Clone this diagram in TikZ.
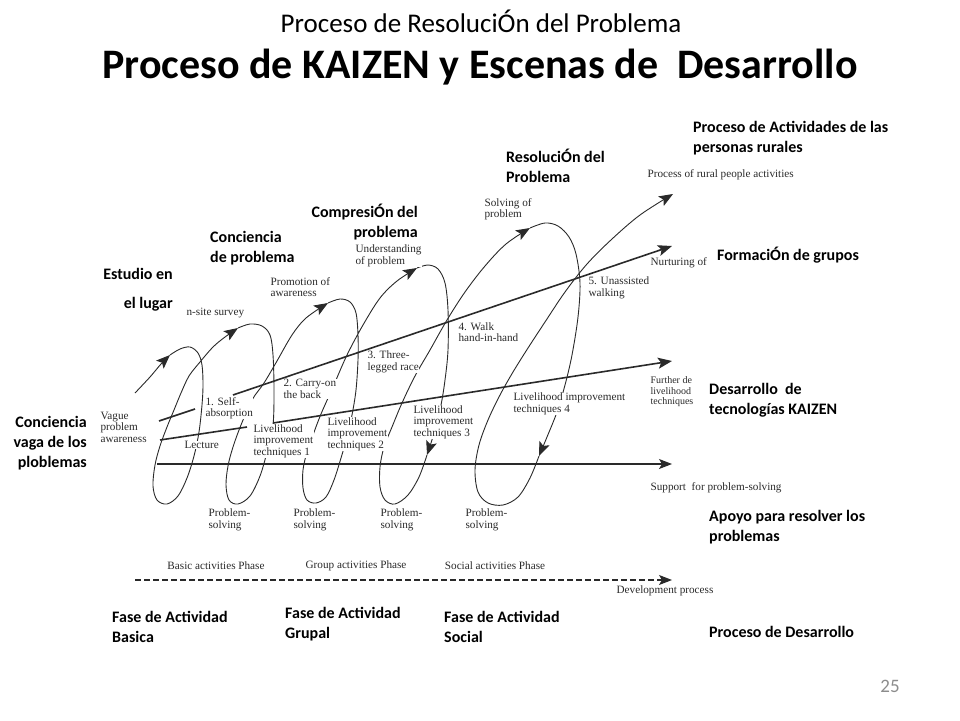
\documentclass[tikz,border=0pt]{standalone}
\usepackage{fontspec}
\setmainfont{Carlito}
\newfontfamily\serifen{Liberation Serif}
\usepackage{tikz}
\usetikzlibrary{arrows.meta,positioning}
\definecolor{scan}{HTML}{2A2A2A}

\begin{document}
\begin{tikzpicture}[x=1pt,y=-1pt,
  es/.style={font=\bfseries\fontsize{16}{20}\selectfont, inner sep=0pt},
  en/.style={font=\serifen\fontsize{11.2}{11.5}\selectfont, text=scan, inner sep=0.4pt, fill=white, align=left},
  coil/.style={line width=0.9pt, scan, -{Stealth[length=14pt,width=11pt,inset=3pt]}},
  trend/.style={line width=1.6pt, scan}]
\useasboundingbox (0,0) rectangle (960,720);
% Titles
\node[font=\fontsize{27}{30}\selectfont] (sub) at (481,21) {Proceso de ResoluciÓn del Problema};
\node[font=\bfseries\fontsize{42}{46}\selectfont] (title) at (480,67) {Proceso de KAIZEN y Escenas de~ Desarrollo};

% Straight processes
\coordinate (nurA) at (159,421); \coordinate (nurB) at (195,409);
\coordinate (nurC) at (233,395); \coordinate (nurD) at (672,246);
\coordinate (livA) at (160,440); \coordinate (livB) at (247,427);
\coordinate (livC) at (273,423); \coordinate (livD) at (672,361);
\coordinate (supA) at (157,464); \coordinate (supD) at (672,464);
\coordinate (devA) at (135,580); \coordinate (devD) at (672,580);
\draw[trend] (nurA) -- (nurB);
\draw[trend, -{Stealth[length=14pt,width=11pt,inset=3pt]}] (nurC) -- (nurD);
\draw[trend] (livA) -- (livB);
\draw[trend, -{Stealth[length=14pt,width=11pt,inset=3pt]}] (livC) -- (livD);
\draw[line width=1.1pt, scan, -{Stealth[length=13pt,width=10pt,inset=3pt]}] (supA) -- (supD);
\draw[line width=1.1pt, scan, dash pattern=on 6pt off 3pt, -{Stealth[length=13pt,width=10pt,inset=3pt]}] (devA) -- (devD);

% Process of rural people activities (coil)
\draw[coil] plot[smooth, tension=0.55] coordinates {(135,393) (150,377) (161,364) (170,355)};
\draw[coil] plot[smooth, tension=0.55] coordinates {(170,355) (180,349) (190,347) (198,353) (202,365) (203,385) (202,405) (199,432) (194,456) (187,478) (178,496) (167,504) (157,500) (153,486) (155,465) (160,446) (167,427) (174,410) (181,393) (189,376) (200,362) (213,347) (225,337) (238,328)};
\draw[coil] plot[smooth, tension=0.55] coordinates {(238,328) (250,324) (262,326) (270,335) (273,355) (274,390) (273,425) (267,452) (260,476) (250,496) (238,504) (229,500) (226,485) (228,466) (233,447) (241,425) (252,400) (264,383) (277,361) (292,335) (306,318) (328,303)};
\draw[coil] plot[smooth, tension=0.55] coordinates {(328,303) (340,299) (350,302) (356,313) (358,335) (358,360) (356,390) (352,415) (347,437) (341,458) (334,480) (326,497) (316,503) (307,500) (303,488) (303,470) (307,452) (313,435) (321,414) (333,387) (347,355) (363,325) (380,298) (397,281) (417,268)};
\draw[coil] plot[smooth, tension=0.55] coordinates {(417,268) (428,265) (438,269) (445,283) (448,310) (448,350) (445,380) (441,405) (435,430) (427,455)};
\draw[coil] plot[smooth, tension=0.55] coordinates {(427,455) (419,477) (408,495) (395,504) (385,500) (380,487) (380,467) (384,447) (392,427) (402,403) (415,376) (430,350) (447,320) (465,292) (485,266) (506,244) (530,228)};
\draw[coil] plot[smooth, tension=0.55] coordinates {(530,228) (545,223) (558,226) (569,237) (576,254) (580,283) (578,317) (572,355) (565,385) (557,412) (547,437) (539,456)};
\draw[coil] plot[smooth, tension=0.55] coordinates {(539,456) (530,478) (518,497) (503,505) (488,503) (478,492) (475,470) (479,445) (488,420) (500,395) (513,372) (528,348) (545,322) (565,292) (587,264) (612,239) (640,215) (673,194)};

% English labels of the scheme
\node[en, anchor=west] (procR) at (647,175) {Process of rural people activities};
\node[en, anchor=west] (nurt) at (650,263) {Nurturing of};
\node[en, anchor=west, font=\serifen\fontsize{10}{10.5}\selectfont] (furth) at (650,392) {Further de\\livelihood\\techniques};
\node[en, anchor=west] (supp) at (650,488) {Support~ for problem-solving};
\node[en] (devp) at (665,591) {Development process};
\node[en] (basic) at (216,566) {Basic activities Phase};
\node[en] (group) at (356,566) {Group activities Phase};
\node[en] (socl) at (495,566) {Social activities Phase};
\node[en, anchor=west] (ps1) at (208,520) {Problem-\\solving};
\node[en, anchor=west] (ps2) at (293,520) {Problem-\\solving};
\node[en, anchor=west] (ps3) at (380,520) {Problem-\\solving};
\node[en, anchor=west] (ps4) at (465,520) {Problem-\\solving};
\node[en, anchor=west] (vague) at (100,427) {Vague\\problem\\awareness};
\node[en, anchor=west] (lect) at (184,445) {Lecture};
\node[en, anchor=west] (self) at (205,408) {1. Self-\\absorption};
\node[en, anchor=west] (carry) at (283,389) {2. Carry-on\\the back};
\node[en, anchor=west] (three) at (367,362) {3. Three-\\legged race};
\node[en, anchor=west] (walk) at (458,332) {4. Walk\\hand-in-hand};
\node[en, anchor=west] (unas) at (588,288) {5. Unassisted\\walking};
\node[en, anchor=west] (lit1) at (253,441) {Livelihood\\improvement\\techniques 1};
\node[en, anchor=west] (lit2) at (327,434) {Livelihood\\improvement\\techniques 2};
\node[en, anchor=west] (lit3) at (413,422) {Livelihood\\improvement\\techniques 3};
\node[en, anchor=west] (lit4) at (513,404) {Livelihood improvement\\techniques 4};
\node[en, anchor=west] (promo) at (270,287) {Promotion of\\awareness};
\node[en, anchor=west] (under) at (355,256) {Understanding\\of problem};
\node[en, anchor=west] (solv) at (484,209) {Solving of\\problem};
\node[en, anchor=west] (onsite) at (186,313) {n-site survey};

% Spanish labels
\node[es, anchor=west, align=left] (rural) at (693,138) {Proceso de Actividades de las\\personas rurales};
\node[es, anchor=west, align=left] (resol) at (506,166) {ResoluciÓn del\\Problema};
\node[es, anchor=east, align=right] (compr) at (418,222) {CompresiÓn del\\problema};
\node[es, anchor=west, align=left] (conc) at (210,248) {Conciencia\\de problema};
\node[es, anchor=east, align=right, font=\bfseries\fontsize{16}{29}\selectfont] (estud) at (173,290) {Estudio en\\el lugar};
\node[es, anchor=east, align=right] (vaga) at (87,443) {Conciencia\\vaga de los\\ploblemas};
\node[es, anchor=west] (grupos) at (717,255) {FormaciÓn de grupos};
\node[es, anchor=west, align=left] (kaizen) at (709,400) {Desarrollo~ de\\tecnologías KAIZEN};
\node[es, anchor=west, align=left] (apoyo) at (709,527) {Apoyo para resolver los\\problemas};
\node[es, anchor=west, align=left] (basica) at (112,627) {Fase de Actividad\\Basica};
\node[es, anchor=west, align=left] (grupal) at (285,624) {Fase de Actividad\\Grupal};
\node[es, anchor=west, align=left] (social) at (444,627) {Fase de Actividad\\Social};
\node[es, anchor=west] (desarr) at (709,632) {Proceso de Desarrollo};
\node[font=\fontsize{19}{22}\selectfont, text=black!45] (page) at (890,686) {25};
\end{tikzpicture}
\end{document}
